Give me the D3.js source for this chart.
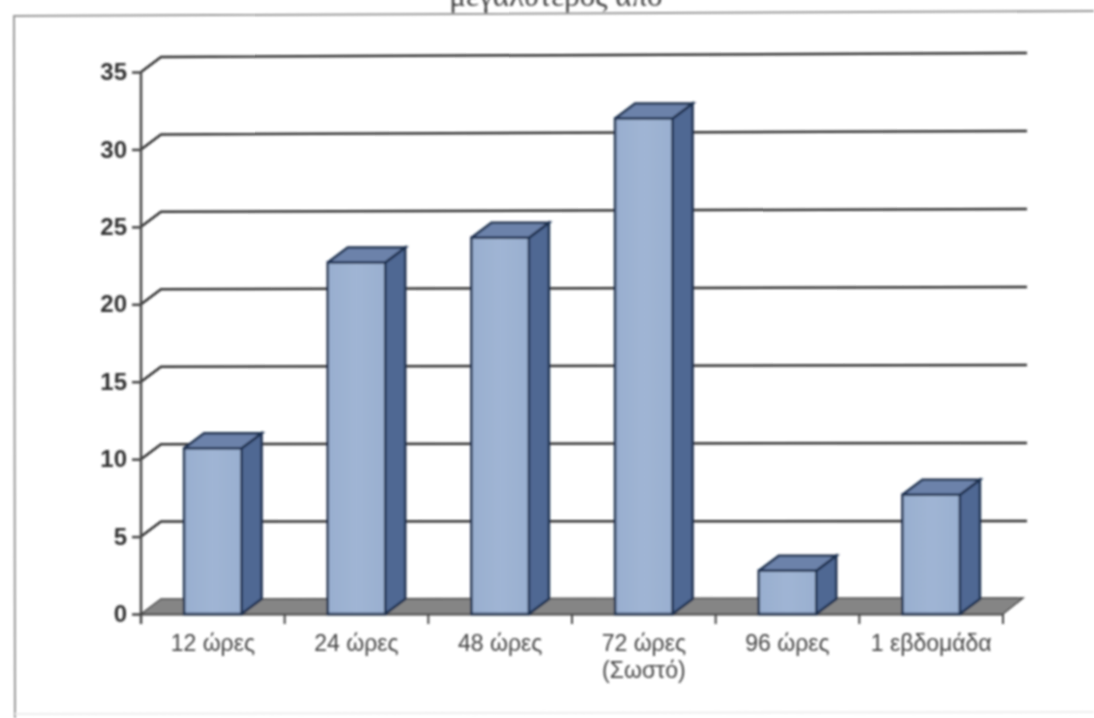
<!DOCTYPE html>
<html>
<head>
<meta charset="utf-8">
<script src="https://cdn.jsdelivr.net/npm/d3@7"></script>
<style>
body { margin: 0; background: #fff; }
svg { display: block; }
text { font-family: "Liberation Sans", Arial, sans-serif; fill: #333; }
</style>
</head>
<body>
<div id="chart_wrapper"></div>
<script>
var categories = ["12 ώρες", "24 ώρες", "48 ώρες", "72 ώρες|(Σωστό)", "96 ώρες", "1 εβδομάδα"];
var values = [10.7, 22.7, 24.3, 32, 2.8, 7.7];
var yTicks = [0, 5, 10, 15, 20, 25, 30, 35];

var width = 1094, height = 718;
var margin = {left: 141, right: 91, top: 72, bottom: 104};
var depthX = 20, depthY = 15;

var svg = d3.select("#chart_wrapper").append("svg").attr("width", width).attr("height", height);

var defs = svg.append("defs");
defs.append("filter").attr("id", "scan").append("feGaussianBlur").attr("stdDeviation", 0.9);

var grad = defs.append("linearGradient").attr("id", "front");
grad.append("stop").attr("offset", "0%").attr("stop-color", "#98aecf");
grad.append("stop").attr("offset", "50%").attr("stop-color", "#a0b5d4");
grad.append("stop").attr("offset", "100%").attr("stop-color", "#99afd0");

var root = svg.append("g").attr("filter", "url(#scan)");

// caption of the page above, cut by the scan just like the source
root.append("text").attr("x", 556).attr("y", 6).attr("text-anchor", "middle")
    .style("font-family", "'Liberation Serif', serif").style("font-size", "31px").style("fill", "#444")
    .text("μεγαλύτερος από");

// outer frame of the scanned figure
root.append("path").attr("d", d3.line()([[15, 718], [14, 16], [1094, 11]]))
    .attr("fill", "none").attr("stroke", "#999").attr("stroke-width", 2);
root.append("path").attr("d", d3.line()([[15, 714], [1094, 712]]))
    .attr("fill", "none").attr("stroke", "#eee").attr("stroke-width", 2);

var x = d3.scaleBand().domain(categories)
    .range([margin.left, width - margin.right]).paddingInner(0.6).paddingOuter(0.3);
var y = d3.scaleLinear().domain([0, 35]).range([height - margin.bottom, margin.top]);

var base = y(0);

// floor
root.append("path")
    .attr("d", d3.line()([[margin.left, base], [margin.left + depthX, base - depthY],
        [width - margin.right + depthX, base - depthY - 1], [width - margin.right, base]]))
    .attr("fill", "#858585").attr("stroke", "#444").attr("stroke-width", 1.5);

// gridlines with their slanted start
root.append("g").selectAll("path").data(yTicks.slice(1)).enter().append("path")
    .attr("d", function(d) {
        var lean = d / 35 * 4;
        return d3.line()([[margin.left, y(d)], [margin.left + depthX, y(d) - depthY],
            [width - margin.right + depthX + 4, y(d) - depthY - lean]]);
    })
    .attr("fill", "none").attr("stroke", "#333").attr("stroke-width", 2.5);

var axisY = d3.axisLeft(y).tickValues(yTicks).tickSize(9).tickPadding(5);
var gy = root.append("g").attr("transform", "translate(" + margin.left + ",0)").call(axisY);
gy.select("path").attr("d", "M0," + (base + 10) + "V" + margin.top);
gy.selectAll("path, line").attr("stroke", "#444").attr("stroke-width", 2.5);
gy.selectAll("text").style("font-size", "24px").style("font-weight", "bold").style("fill", "#333");

var axisX = d3.axisBottom(x).tickSize(0).tickFormat("");
var gx = root.append("g").attr("transform", "translate(0," + base + ")").call(axisX);
gx.select("path").attr("stroke", "#444").attr("stroke-width", 2);

// tick marks sit between the bars, one step per category
var step = x.step();
root.append("g").selectAll("line").data(d3.range(categories.length + 1)).enter().append("line")
    .attr("x1", function(i) { return margin.left + i * step; })
    .attr("x2", function(i) { return margin.left + i * step; })
    .attr("y1", base).attr("y2", base + 10)
    .attr("stroke", "#444").attr("stroke-width", 2);

var bars = root.append("g").selectAll("g").data(categories).enter().append("g");
var line = d3.line();

// side face
bars.append("path").attr("d", function(d, i) {
    var x1 = x(d) + x.bandwidth(), t = y(values[i]);
    return line([[x1, t], [x1 + depthX, t - depthY], [x1 + depthX, base - depthY], [x1, base]]);
}).attr("fill", "#4f6893").attr("stroke", "#1f3050").attr("stroke-width", 2.5);

// top face
bars.append("path").attr("d", function(d, i) {
    var x0 = x(d), x1 = x0 + x.bandwidth(), t = y(values[i]);
    return line([[x0, t], [x0 + depthX, t - depthY], [x1 + depthX, t - depthY], [x1, t]]);
}).attr("fill", "#6c82aa").attr("stroke", "#1f3050").attr("stroke-width", 2.5);

// front face
bars.append("rect")
    .attr("x", function(d) { return x(d); })
    .attr("y", function(d, i) { return y(values[i]); })
    .attr("width", x.bandwidth())
    .attr("height", function(d, i) { return base - y(values[i]); })
    .attr("fill", "url(#front)").attr("stroke", "#1f3050").attr("stroke-width", 2.5);

// category labels, second row where the name has one
var labels = root.append("g").selectAll("text").data(categories).enter().append("text")
    .attr("text-anchor", "middle").style("font-size", "23px").style("fill", "#444")
    .attr("transform", function(d) { return "translate(" + (x(d) + x.bandwidth() / 2) + "," + (base + 37) + ")"; });
labels.selectAll("tspan").data(function(d) { return d.split("|"); }).enter().append("tspan")
    .attr("x", 0).attr("dy", function(d, i) { return i ? 27 : 0; })
    .text(function(d) { return d; });
</script>
</body>
</html>
